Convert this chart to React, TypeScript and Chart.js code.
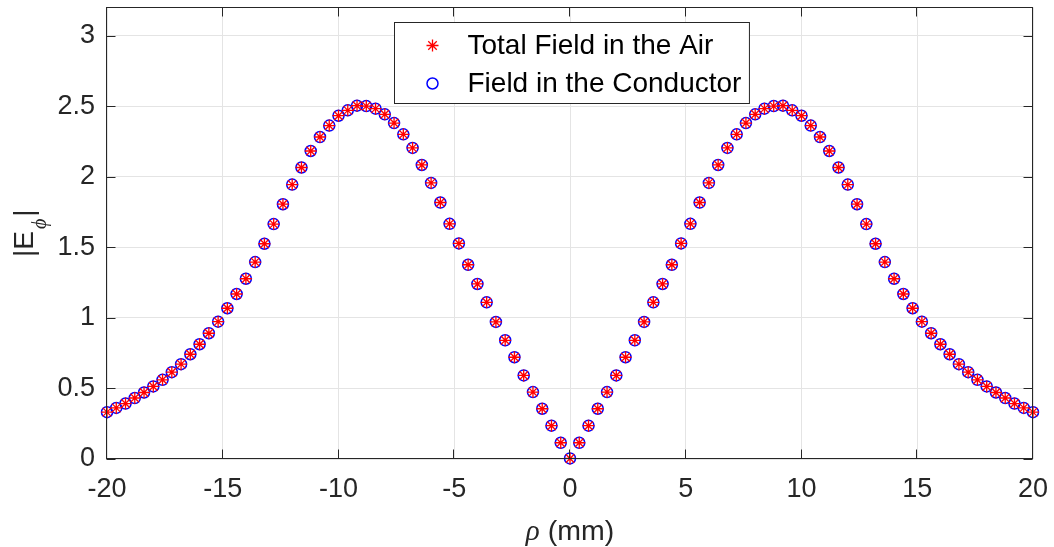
import React, { useEffect, useRef } from 'react';
import { Chart, registerables } from 'chart.js';

Chart.register(...registerables);

// ρ positions (mm)
const rhoMm = [
  -20, -19.6, -19.2, -18.8, -18.4, -18, -17.6, -17.2, -16.8, -16.4,
  -16, -15.6, -15.2, -14.8, -14.4, -14, -13.6, -13.2, -12.8, -12.4,
  -12, -11.6, -11.2, -10.8, -10.4, -10, -9.6, -9.2, -8.8, -8.4,
  -8, -7.6, -7.2, -6.8, -6.4, -6, -5.6, -5.2, -4.8, -4.4,
  -4, -3.6, -3.2, -2.8, -2.4, -2, -1.6, -1.2, -0.8, -0.4,
  0,
  0.4, 0.8, 1.2, 1.6, 2, 2.4, 2.8, 3.2, 3.6, 4,
  4.4, 4.8, 5.2, 5.6, 6, 6.4, 6.8, 7.2, 7.6, 8,
  8.4, 8.8, 9.2, 9.6, 10, 10.4, 10.8, 11.2, 11.6, 12,
  12.4, 12.8, 13.2, 13.6, 14, 14.4, 14.8, 15.2, 15.6, 16,
  16.4, 16.8, 17.2, 17.6, 18, 18.4, 18.8, 19.2, 19.6, 20,
];

// |E_phi| : total field in the air
const totalFieldAir = [
  0.332, 0.362, 0.393, 0.432, 0.471, 0.514, 0.561, 0.615, 0.672, 0.742,
  0.813, 0.891, 0.973, 1.068, 1.169, 1.277, 1.395, 1.525, 1.664, 1.805,
  1.944, 2.065, 2.182, 2.281, 2.362, 2.432, 2.470, 2.503, 2.500, 2.482,
  2.442, 2.380, 2.300, 2.204, 2.083, 1.956, 1.817, 1.666, 1.527, 1.376,
  1.240, 1.110, 0.971, 0.841, 0.721, 0.592, 0.474, 0.356, 0.236, 0.115,
  0.004,
  0.115, 0.236, 0.356, 0.474, 0.592, 0.721, 0.841, 0.971, 1.110, 1.240,
  1.376, 1.527, 1.666, 1.817, 1.956, 2.083, 2.204, 2.300, 2.380, 2.442,
  2.482, 2.500, 2.503, 2.470, 2.432, 2.362, 2.281, 2.182, 2.065, 1.944,
  1.805, 1.664, 1.525, 1.395, 1.277, 1.169, 1.068, 0.973, 0.891, 0.813,
  0.742, 0.672, 0.615, 0.561, 0.514, 0.471, 0.432, 0.393, 0.362, 0.332,
];

// |E_phi| : field in the conductor
const fieldConductor = [
  0.332, 0.362, 0.393, 0.432, 0.471, 0.514, 0.561, 0.615, 0.672, 0.742,
  0.813, 0.891, 0.973, 1.068, 1.169, 1.277, 1.395, 1.525, 1.664, 1.805,
  1.944, 2.065, 2.182, 2.281, 2.362, 2.432, 2.470, 2.503, 2.500, 2.482,
  2.442, 2.380, 2.300, 2.204, 2.083, 1.956, 1.817, 1.666, 1.527, 1.376,
  1.240, 1.110, 0.971, 0.841, 0.721, 0.592, 0.474, 0.356, 0.236, 0.115,
  0.004,
  0.115, 0.236, 0.356, 0.474, 0.592, 0.721, 0.841, 0.971, 1.110, 1.240,
  1.376, 1.527, 1.666, 1.817, 1.956, 2.083, 2.204, 2.300, 2.380, 2.442,
  2.482, 2.500, 2.503, 2.470, 2.432, 2.362, 2.281, 2.182, 2.065, 1.944,
  1.805, 1.664, 1.525, 1.395, 1.277, 1.169, 1.068, 0.973, 0.891, 0.813,
  0.742, 0.672, 0.615, 0.561, 0.514, 0.471, 0.432, 0.393, 0.362, 0.332,
];

const xTickValues = [-20, -15, -10, -5, 0, 5, 10, 15, 20];
const yTickValues = [0, 0.5, 1, 1.5, 2, 2.5, 3];
const seriesLabels = ['Total Field in the Air', 'Field in the Conductor'];
const xTitleParts = ['ρ', ' (mm)'];
const yTitleParts = ['|E', 'ϕ', '|'];

const AXIS_COLOR = '#262626';
const GRID_COLOR = '#e4e4e4';
const SANS = '"Liberation Sans", Arial, Helvetica, sans-serif';
const SERIF = '"Liberation Serif", "DejaVu Serif", "Times New Roman", serif';

function drawStar(ctx: CanvasRenderingContext2D, x: number, y: number, r: number) {
  const d = r * Math.SQRT1_2;
  ctx.beginPath();
  ctx.moveTo(x - r, y); ctx.lineTo(x + r, y);
  ctx.moveTo(x, y - r); ctx.lineTo(x, y + r);
  ctx.moveTo(x - d, y - d); ctx.lineTo(x + d, y + d);
  ctx.moveTo(x - d, y + d); ctx.lineTo(x + d, y - d);
  ctx.stroke();
}

const decorPlugin = {
  id: 'matlabDecor',
  afterDraw(chart: any) {
    const { ctx, chartArea: a, scales } = chart;
    const xs = scales.x;
    const ys = scales.y;
    ctx.save();

    // axes box
    ctx.strokeStyle = AXIS_COLOR;
    ctx.lineWidth = 1;
    const L = Math.round(a.left) - 0.5;
    const R = Math.round(a.right) - 0.5;
    const T = Math.round(a.top) + 0.5;
    const B = Math.round(a.bottom) - 0.5;
    ctx.strokeRect(L, T, R - L, B - T);

    // inward ticks
    const tl = 9;
    ctx.beginPath();
    xTickValues.forEach((v) => {
      const px = Math.round(xs.getPixelForValue(v)) - 0.5;
      ctx.moveTo(px, B); ctx.lineTo(px, B - tl);
      ctx.moveTo(px, T); ctx.lineTo(px, T + tl);
    });
    yTickValues.forEach((v) => {
      const py = Math.round(ys.getPixelForValue(v)) + 0.5;
      ctx.moveTo(L, py); ctx.lineTo(L + tl, py);
      ctx.moveTo(R, py); ctx.lineTo(R - tl, py);
    });
    ctx.stroke();

    // legend
    const cx = (a.left + a.right) / 2;
    ctx.font = `28px ${SANS}`;
    const tw = Math.max(...seriesLabels.map((s) => ctx.measureText(s).width));
    const boxW = 38 + 35 + tw + 8;
    const boxL = Math.round(cx - boxW / 2 + 1) + 0.5;
    const boxT = Math.round(a.top + 15) + 0.5;
    const boxH = 81;
    ctx.fillStyle = '#ffffff';
    ctx.fillRect(boxL, boxT, boxW, boxH);
    ctx.strokeStyle = AXIS_COLOR;
    ctx.lineWidth = 1;
    ctx.strokeRect(boxL, boxT, boxW, boxH);
    const mx = boxL + 38;
    const row1 = boxT + 23;
    const row2 = boxT + 61;
    ctx.strokeStyle = '#ff0000';
    ctx.lineWidth = 1.3;
    drawStar(ctx, mx, row1, 6);
    ctx.strokeStyle = '#0000ff';
    ctx.lineWidth = 1.5;
    ctx.beginPath();
    ctx.arc(mx, row2, 5.5, 0, Math.PI * 2);
    ctx.stroke();
    ctx.fillStyle = '#000000';
    ctx.textAlign = 'left';
    ctx.textBaseline = 'middle';
    ctx.fillText(seriesLabels[0], mx + 35, row1 + 1);
    ctx.fillText(seriesLabels[1], mx + 35, row2 + 1);

    // x title
    ctx.fillStyle = AXIS_COLOR;
    ctx.textBaseline = 'alphabetic';
    const fRho = `italic 29px ${SERIF}`;
    const fMm = `28.5px ${SANS}`;
    ctx.font = fRho;
    const wRho = ctx.measureText(xTitleParts[0]).width;
    ctx.font = fMm;
    const wMm = ctx.measureText(xTitleParts[1]).width;
    const sx = cx - (wRho + wMm) / 2;
    const base = 540;
    ctx.font = fRho;
    ctx.fillText(xTitleParts[0], sx, base);
    ctx.font = fMm;
    ctx.fillText(xTitleParts[1], sx + wRho, base);

    // y title (rotated)
    const cy = (a.top + a.bottom) / 2;
    const fMain = `28px ${SANS}`;
    const fSub = `italic 20px ${SERIF}`;
    ctx.font = fMain;
    const w1 = ctx.measureText(yTitleParts[0]).width;
    const w3 = ctx.measureText(yTitleParts[2]).width;
    ctx.font = fSub;
    const w2 = ctx.measureText(yTitleParts[1]).width;
    const gap = 2;
    const total = w1 + gap + w2 + gap + w3;
    ctx.translate(33, cy);
    ctx.rotate(-Math.PI / 2);
    let tx = -total / 2;
    ctx.font = fMain;
    ctx.fillText(yTitleParts[0], tx, 0);
    tx += w1 + gap;
    ctx.font = fSub;
    ctx.fillText(yTitleParts[1], tx, 13);
    tx += w2 + gap;
    ctx.font = fMain;
    ctx.fillText(yTitleParts[2], tx, 0);

    ctx.restore();
  },
};

export default function App() {
  const canvasRef = useRef<HTMLCanvasElement | null>(null);

  useEffect(() => {
    const canvas = canvasRef.current;
    if (!canvas) return;
    const airPts = rhoMm.map((x, i) => ({ x, y: totalFieldAir[i] }));
    const condPts = rhoMm.map((x, i) => ({ x, y: fieldConductor[i] }));
    const chart = new Chart(canvas, {
      type: 'scatter',
      data: {
        datasets: [
          {
            label: seriesLabels[0],
            data: airPts,
            pointStyle: 'star',
            pointRadius: 6,
            borderColor: '#ff0000',
            backgroundColor: '#ff0000',
            borderWidth: 1.3,
            showLine: false,
            clip: false,
          },
          {
            label: seriesLabels[1],
            data: condPts,
            pointStyle: 'circle',
            pointRadius: 5.5,
            borderColor: '#0000ff',
            backgroundColor: 'rgba(0,0,0,0)',
            borderWidth: 1.5,
            showLine: false,
            clip: false,
          },
        ],
      },
      options: {
        responsive: false,
        animation: false,
        devicePixelRatio: 1,
        events: [],
        layout: { padding: { top: 6, right: 21, left: 0, bottom: 0 } },
        plugins: {
          legend: { display: false },
          tooltip: { enabled: false },
          title: { display: false },
        },
        scales: {
          x: {
            type: 'linear',
            min: -20,
            max: 20,
            afterBuildTicks: (scale: any) => {
              scale.ticks = xTickValues.map((v) => ({ value: v }));
            },
            afterFit: (scale: any) => {
              scale.height = 88;
              scale.paddingLeft = 0;
              scale.paddingRight = 0;
            },
            grid: { color: GRID_COLOR, drawTicks: false, lineWidth: 1 },
            border: { display: false },
            ticks: {
              color: AXIS_COLOR,
              font: { family: SANS, size: 27 },
              padding: 14,
              maxRotation: 0,
              autoSkip: false,
              callback: (value: any) => String(Number(value)),
            },
          },
          y: {
            type: 'linear',
            min: 0,
            max: 3.2,
            afterBuildTicks: (scale: any) => {
              scale.ticks = yTickValues.map((v) => ({ value: v }));
            },
            afterFit: (scale: any) => {
              scale.width = 107;
              scale.paddingTop = 0;
              scale.paddingBottom = 0;
            },
            grid: { color: GRID_COLOR, drawTicks: false, lineWidth: 1 },
            border: { display: false },
            ticks: {
              color: AXIS_COLOR,
              font: { family: SANS, size: 27 },
              padding: 12,
              autoSkip: false,
              callback: (value: any) => String(Number(value)),
            },
          },
        },
      },
      plugins: [decorPlugin],
    });
    return () => chart.destroy();
  }, []);

  return (
    <div style={{ position: 'absolute', left: 0, top: 0, width: 1054, height: 547, background: '#ffffff' }}>
      <canvas ref={canvasRef} width={1054} height={547} style={{ display: 'block' }} />
    </div>
  );
}
